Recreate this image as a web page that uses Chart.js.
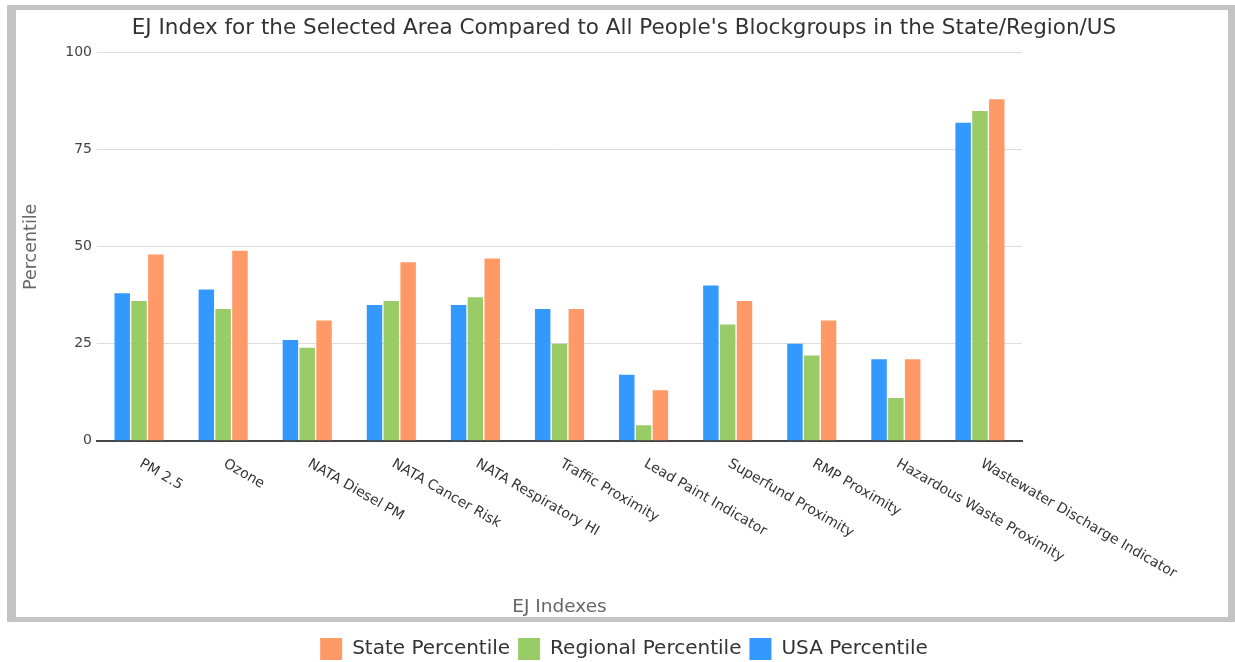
<!DOCTYPE html>
<html lang="en">
<head>
  <meta charset="UTF-8" />
  <title>EJ Index Chart</title>
  <script src="https://cdn.jsdelivr.net/npm/chart.js"></script>
  <style>
    body {
      margin: 0;
      background: #ffffff;
      font-family: "DejaVu Sans", Verdana, sans-serif;
    }
    .chart-wrap {
      position: relative;
      width: 1235px;
      height: 662px;
    }
  </style>
</head>
<body>
  <div class="chart-wrap">
    <canvas id="ejChart"></canvas>
  </div>

  <script>
    const categories = [
      'PM 2.5', 'Ozone', 'NATA Diesel PM', 'NATA Cancer Risk', 'NATA Respiratory HI',
      'Traffic Proximity', 'Lead Paint Indicator', 'Superfund Proximity', 'RMP Proximity',
      'Hazardous Waste Proximity', 'Wastewater Discharge Indicator'
    ];
    const usaPercentile = [38, 39, 26, 35, 35, 34, 17, 40, 25, 21, 82];
    const regionalPercentile = [36, 34, 24, 36, 37, 25, 4, 30, 22, 11, 85];
    const statePercentile = [48, 49, 31, 46, 47, 34, 13, 36, 31, 21, 88];
    const yTicks = [0, 25, 50, 75, 100];

    const FONT = '"DejaVu Sans", Verdana, sans-serif';

    // grey frame around the plot, legend sits below it
    const framePlugin = {
      id: 'frame',
      beforeDraw(chart) {
        const ctx = chart.ctx;
        ctx.save();
        ctx.fillStyle = '#ffffff';
        ctx.fillRect(0, 0, chart.width, chart.height);
        ctx.fillStyle = '#c4c4c4';
        ctx.fillRect(7, 5, 1228, 5);      // top
        ctx.fillRect(7, 5, 9, 617);       // left
        ctx.fillRect(1228, 5, 7, 617);    // right
        ctx.fillRect(7, 617, 1228, 5);    // bottom
        ctx.restore();
      }
    };

    // category labels run down to the right from each tick
    const slantLabels = {
      id: 'slantLabels',
      afterDraw(chart) {
        const scale = chart.scales.x;
        const ctx = chart.ctx;
        ctx.save();
        ctx.font = '14px ' + FONT;
        ctx.fillStyle = '#333333';
        ctx.textAlign = 'left';
        ctx.textBaseline = 'top';
        categories.forEach((label, i) => {
          const x = scale.getPixelForTick(i);
          ctx.save();
          ctx.translate(x + 5, scale.top + 16);
          ctx.rotate(Math.PI / 6);
          ctx.fillText(label, 0, 0);
          ctx.restore();
        });
        ctx.restore();
      }
    };

    const ctx = document.getElementById('ejChart').getContext('2d');
    new Chart(ctx, {
      type: 'bar',
      data: {
        labels: categories,
        datasets: [
          { label: 'USA Percentile', data: usaPercentile, backgroundColor: '#3399ff' },
          { label: 'Regional Percentile', data: regionalPercentile, backgroundColor: '#99cc66' },
          { label: 'State Percentile', data: statePercentile, backgroundColor: '#ff9966' }
        ]
      },
      options: {
        responsive: true,
        maintainAspectRatio: false,
        animation: false,
        layout: { padding: { left: 20, right: 7, top: 14, bottom: -8 } },
        datasets: {
          bar: { categoryPercentage: 0.6, barPercentage: 0.92, borderWidth: 0 }
        },
        plugins: {
          title: {
            display: true,
            text: "EJ Index for the Selected Area Compared to All People's Blockgroups in the State/Region/US",
            color: '#333333',
            font: { family: FONT, size: 21.5, weight: 'normal' },
            padding: { top: 2, bottom: 11 }
          },
          legend: {
            position: 'bottom',
            reverse: true,
            labels: {
              color: '#333333',
              font: { family: FONT, size: 20 },
              boxWidth: 22,
              boxHeight: 22,
              padding: 8
            }
          },
          tooltip: { enabled: false }
        },
        scales: {
          x: {
            grid: { display: false, drawTicks: false },
            border: { display: true, color: '#444444', width: 2 },
            ticks: { display: false },
            title: {
              display: true,
              text: 'EJ Indexes',
              color: '#666666',
              font: { family: FONT, size: 18.5 },
              padding: { top: 155, bottom: 12 }
            }
          },
          y: {
            min: 0,
            max: 100,
            afterFit(scale) { scale.width = 77; },
            afterBuildTicks(scale) { scale.ticks = yTicks.map(v => ({ value: v })); },
            grid: { color: '#dddddd', lineWidth: 1, drawTicks: false },
            border: { display: false },
            ticks: {
              color: '#444444',
              padding: 5,
              font: { family: FONT, size: 14 }
            },
            title: {
              display: true,
              text: 'Percentile',
              color: '#666666',
              font: { family: FONT, size: 17.5 },
              padding: { top: 1, bottom: 0 }
            }
          },
          // empty right-hand axis keeps the plot narrower than the frame
          yRight: {
            position: 'right',
            afterFit(scale) { scale.width = 206; },
            grid: { display: false },
            border: { display: false },
            ticks: { display: false }
          }
        }
      },
      plugins: [framePlugin, slantLabels]
    });
  </script>
</body>
</html>
